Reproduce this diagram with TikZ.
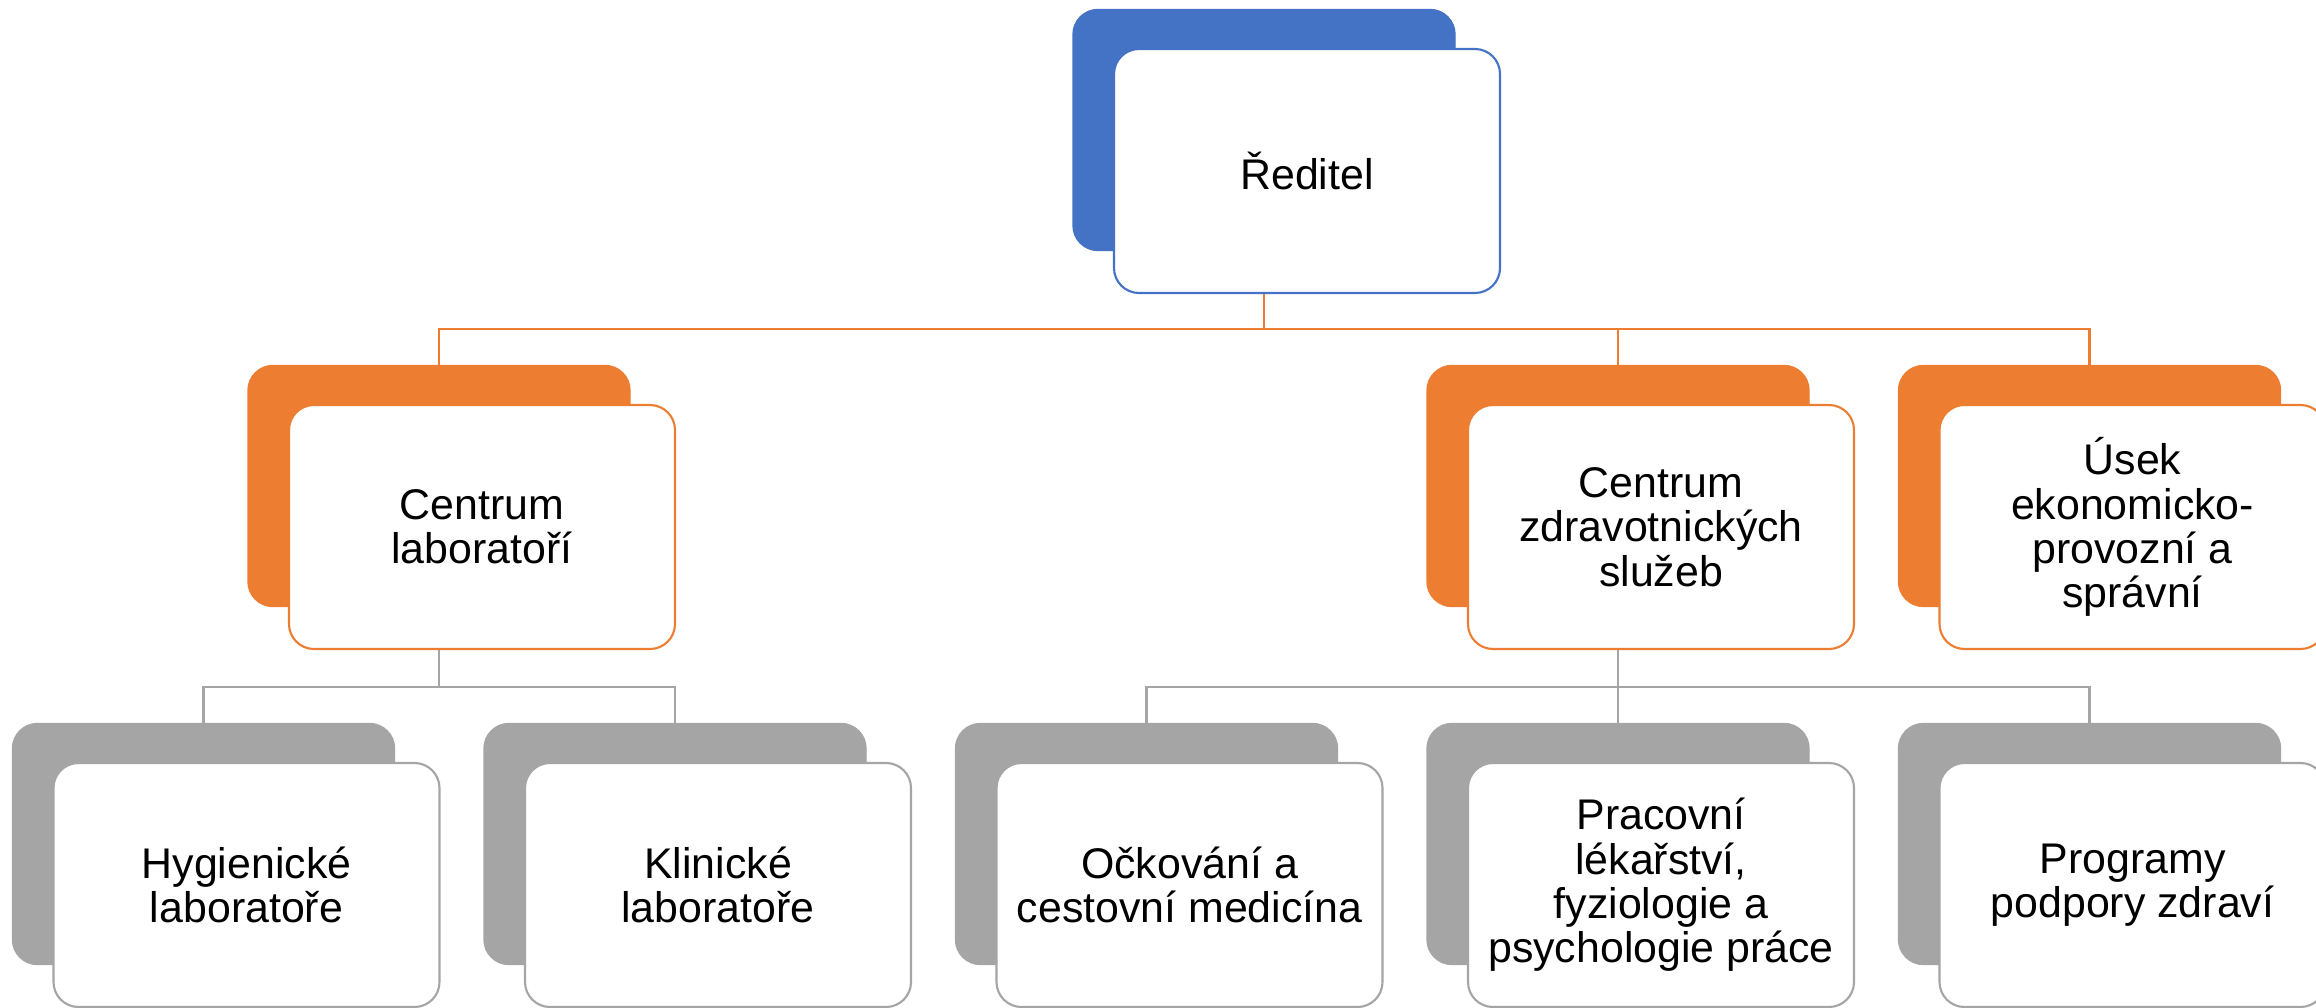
\documentclass[tikz,border=0pt]{standalone}
\usepackage{fontspec}
\setmainfont{Liberation Sans}
\definecolor{acblue}{HTML}{4472C4}
\definecolor{acorange}{HTML}{ED7D31}
\definecolor{acgray}{HTML}{A5A5A5}
\tikzset{
	backbox/.style={draw=#1, fill=#1, rounded corners=0.25cm, minimum width=3.82cm, minimum height=2.41cm},
	frontbox/.style={draw=#1, fill=white, line width=0.6pt, rounded corners=0.25cm, minimum width=3.86cm, minimum height=2.44cm, align=center, font=\fontsize{12.2}{12.6}\selectfont},
	orgline/.style={draw=#1, line width=0.6pt}
}
\begin{document}
\begin{tikzpicture}
	\useasboundingbox (0,0) rectangle (23.16,10.07);
	\node[backbox=acblue] (reditelB) at (12.64,8.77) {};
	\node[frontbox=acblue] (reditel) at ([shift={(0.43,-0.41)}]reditelB) {Ředitel};
	\node[backbox=acorange] (labB) at (4.39,5.21) {};
	\node[frontbox=acorange] (lab) at ([shift={(0.43,-0.41)}]labB) {Centrum\\laboratoří};
	\node[backbox=acorange] (zdravB) at (16.18,5.21) {};
	\node[frontbox=acorange] (zdrav) at ([shift={(0.43,-0.41)}]zdravB) {Centrum\\zdravotnických\\služeb};
	\node[backbox=acorange] (usekB) at (20.895,5.21) {};
	\node[frontbox=acorange] (usek) at ([shift={(0.43,-0.41)}]usekB) {Úsek\\ekonomicko-\\provozní a\\správní};
	\node[backbox=acgray] (hygB) at (2.035,1.63) {};
	\node[frontbox=acgray] (hyg) at ([shift={(0.43,-0.41)}]hygB) {Hygienické\\laboratoře};
	\node[backbox=acgray] (klinB) at (6.75,1.63) {};
	\node[frontbox=acgray] (klin) at ([shift={(0.43,-0.41)}]klinB) {Klinické\\laboratoře};
	\node[backbox=acgray] (ockB) at (11.465,1.63) {};
	\node[frontbox=acgray] (ock) at ([shift={(0.43,-0.41)}]ockB) {Očkování a\\cestovní medicína};
	\node[backbox=acgray] (pracB) at (16.18,1.63) {};
	\node[frontbox=acgray] (prac) at ([shift={(0.43,-0.41)}]pracB) {Pracovní\\lékařství,\\fyziologie a\\psychologie práce};
	\node[backbox=acgray] (progB) at (20.895,1.63) {};
	\node[frontbox=acgray] (prog) at ([shift={(0.43,-0.41)}]progB) {Programy\\podpory zdraví};
	\coordinate (bus1) at (0,6.78);
	\coordinate (bus2) at (0,3.20);
	\foreach \c in {labB,zdravB,usekB}
		\draw[orgline=acorange] (reditelB |- reditel.south) -- (reditelB |- bus1) -| (\c.north);
	\foreach \c in {hygB,klinB}
		\draw[orgline=acgray] (labB |- lab.south) -- (labB |- bus2) -| (\c.north);
	\foreach \c in {ockB,pracB,progB}
		\draw[orgline=acgray] (zdravB |- zdrav.south) -- (zdravB |- bus2) -| (\c.north);
\end{tikzpicture}
\end{document}
